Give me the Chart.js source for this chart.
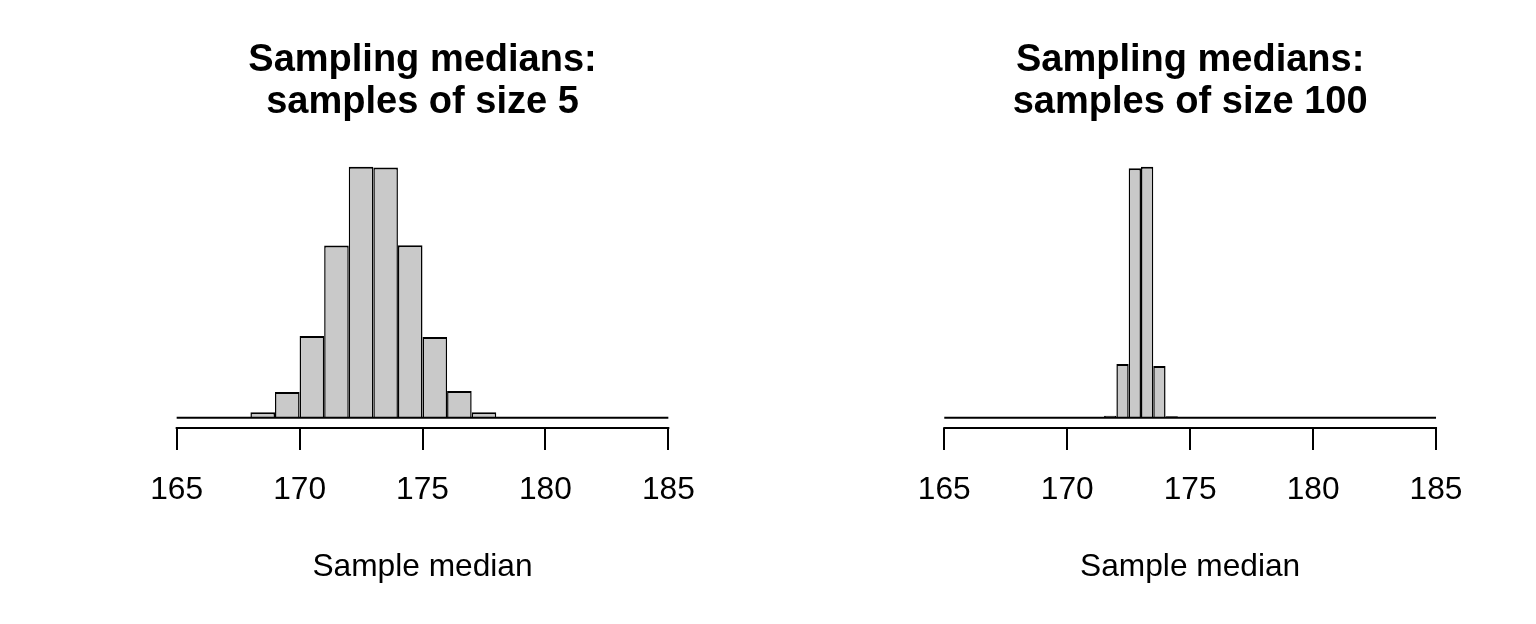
<!DOCTYPE html>
<html>
<head>
<meta charset="utf-8">
<script src="https://cdn.jsdelivr.net/npm/chart.js@4/dist/chart.umd.min.js"></script>
<style>
  html, body { margin: 0; padding: 0; background: #fff; }
  #wrap { position: relative; width: 1536px; height: 624px; }
  .panel { position: absolute; top: 0; height: 624px; }
</style>
</head>
<body>
<div id="wrap">
  <div class="panel" style="left:0;width:845px"><canvas id="left"></canvas></div>
  <div class="panel" style="left:845px;width:691px"><canvas id="right"></canvas></div>
</div>
<script>
// tick labels shared by both panels
const xTicks = [165, 170, 175, 180, 185]

// samples of size 5: bins of width 1
const breaks5 = [165,166,167,168,169,170,171,172,173,174,175,176,177,178,179,180,181,182,183,184,185]
const counts5 = [0,1,7,53,240,762,1605,2339,2330,1608,753,249,53,7,1,0,0,0,0,0]

// samples of size 100: bins of width 0.5
const breaks100 = [165,165.5,166,166.5,167,167.5,168,168.5,169,169.5,170,170.5,171,171.5,172,172.5,173,173.5,174,174.5,
                   175,175.5,176,176.5,177,177.5,178,178.5,179,179.5,180,180.5,181,181.5,182,182.5,183,183.5,184,184.5,185]
const counts100 = [0,0,0,0,0,0,0,0,0,0,0,0,0,33,882,4090,4118,849,28,0,
                   0,0,0,0,0,0,0,0,0,0,0,0,0,0,0,0,0,0,0,0]

const title5 = ["Sampling medians:", "samples of size 5"]
const title100 = ["Sampling medians:", "samples of size 100"]
const xLabel = "Sample median"

const FONT = "'Liberation Sans', Arial, Helvetica, sans-serif"

// R style axis line: runs from first to last tick only
const axisLine = {
    id: "axisLine",
    afterDraw(chart) {
        const x = chart.scales.x
        const ctx = chart.ctx
        const y = chart.chartArea.bottom
        ctx.save()
        ctx.strokeStyle = "#000"
        ctx.lineWidth = 2
        ctx.beginPath()
        ctx.moveTo(x.getPixelForValue(xTicks[0]) - 1, y)
        ctx.lineTo(x.getPixelForValue(xTicks[xTicks.length - 1]) + 1, y)
        ctx.stroke()
        ctx.restore()
    }
}

const makeHist = (id, breaks, counts, title, padL, padR) => {
    const bars = counts.map((c, i) => ({ x: (breaks[i] + breaks[i + 1]) / 2, y: c }))
    const lo = breaks[0], hi = breaks[breaks.length - 1]
    const span = hi - lo
    const top = Math.max(...counts)
    return new Chart(document.getElementById(id).getContext("2d"), {
        type: "bar",
        data: {
            datasets: [
                {
                    type: "line",
                    data: [{ x: lo, y: 0 }, { x: hi, y: 0 }],
                    borderColor: "#000",
                    borderWidth: 2,
                    pointRadius: 0,
                    order: -1
                },
                {
                    data: bars,
                    backgroundColor: "#c9c9c9",
                    borderColor: "#000",
                    borderWidth: { top: 2, left: 1.5, right: 1.5, bottom: 0 },
                    borderSkipped: "start",
                    barPercentage: 1,
                    categoryPercentage: 1,
                    inflateAmount: 0
                }
            ]
        },
        options: {
            responsive: true,
            maintainAspectRatio: false,
            animation: false,
            events: [],
            layout: { padding: { left: padL, right: padR, top: 0, bottom: 0 } },
            plugins: {
                legend: { display: false },
                tooltip: { enabled: false },
                title: {
                    display: true,
                    text: title,
                    color: "#000",
                    font: { family: FONT, size: 38, weight: "bold", lineHeight: 1.105 },
                    padding: { top: 40, bottom: 32.6 }
                }
            },
            scales: {
                x: {
                    type: "linear",
                    min: lo - 0.04 * span,
                    max: hi + 0.04 * span,
                    offset: false,
                    afterBuildTicks: (s) => { s.ticks = xTicks.map(v => ({ value: v })) },
                    border: { display: false },
                    grid: {
                        offset: false,
                        drawOnChartArea: false,
                        drawTicks: true,
                        tickLength: 22,
                        color: "#000",
                        lineWidth: 2
                    },
                    ticks: {
                        color: "#000",
                        padding: 21,
                        maxRotation: 0,
                        autoSkip: false,
                        font: { family: FONT, size: 31.7, lineHeight: 1.2 }
                    },
                    title: {
                        display: true,
                        text: xLabel,
                        color: "#000",
                        font: { family: FONT, size: 31.7, lineHeight: 1.2 },
                        padding: { top: 18, bottom: 38 }
                    }
                },
                y: {
                    display: false,
                    min: -0.04 * top,
                    max: 1.04 * top
                }
            }
        },
        plugins: [axisLine]
    })
}

makeHist("left", breaks5, counts5, title5, 157, 157)
makeHist("right", breaks100, counts100, title100, 79.6, 80.3)
</script>
</body>
</html>
